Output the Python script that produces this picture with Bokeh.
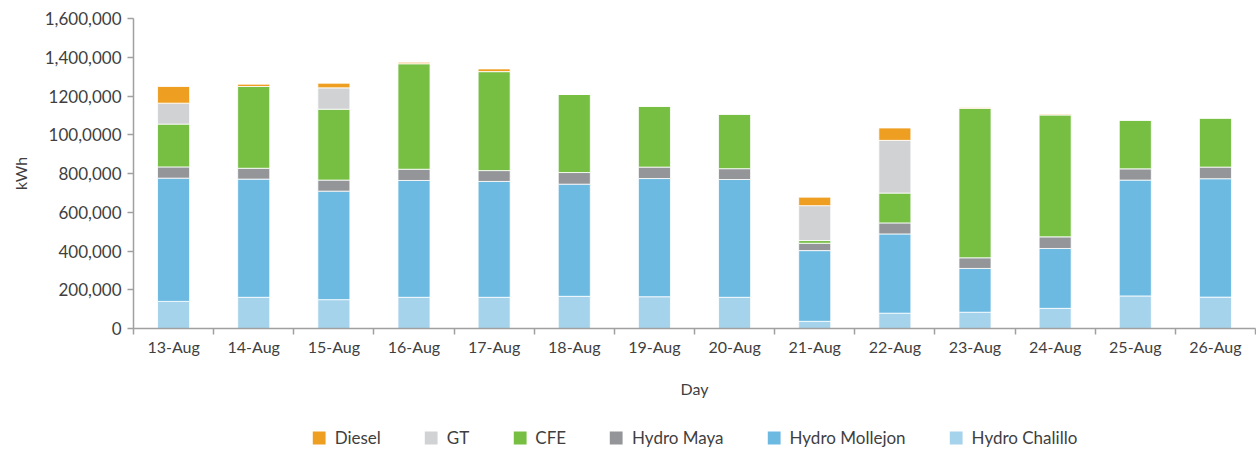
import numpy as np
from bokeh.plotting import figure
from bokeh.layouts import column
from bokeh.models import FixedTicker, Legend, LegendItem, Range1d, ColumnDataSource
from bokeh.embed import file_html
from bokeh.resources import INLINE

days = ["13-Aug", "14-Aug", "15-Aug", "16-Aug", "17-Aug", "18-Aug", "19-Aug",
        "20-Aug", "21-Aug", "22-Aug", "23-Aug", "24-Aug", "25-Aug", "26-Aug"]

hydro_chalillo = [140000, 161000, 149000, 161000, 161000, 166000, 164000,
                  161000, 37000, 79000, 84000, 104000, 168000, 162000]
hydro_mollejon = [636000, 610000, 560000, 603000, 598000, 579000, 610000,
                  608000, 365000, 409000, 226000, 309000, 598000, 611000]
hydro_maya = [58000, 56000, 57000, 58000, 56000, 60000, 59000,
              56000, 38000, 57000, 55000, 60000, 58000, 60000]
cfe = [221000, 422000, 366000, 545000, 511000, 404000, 315000,
       282000, 14000, 154000, 772000, 630000, 252000, 254000]
gt = [108000, 0, 110000, 0, 0, 0, 0,
      0, 180000, 272000, 0, 0, 0, 0]
diesel = [86000, 12000, 24000, 7000, 14000, 0, 0,
          0, 44000, 64000, 4000, 4000, 0, 0]

series_names = ["Hydro Chalillo", "Hydro Mollejon", "Hydro Maya", "CFE", "GT", "Diesel"]
series_keys = ["chalillo", "mollejon", "maya", "cfe", "gt", "diesel"]
series_colors = ["#A6D3EC", "#6CBAE2", "#939598", "#76BF43", "#D1D2D4", "#EE9F22"]

y_tick_values = [0, 200000, 400000, 600000, 800000, 1000000, 1200000, 1400000, 1600000]
y_tick_labels = ["0", "200,000", "400,000", "600,000", "800,000", "100,0000",
                 "1200,000", "1,400,000", "1,600,000"]

FONT = "Lato"
TXT = "#3f3f3f"
AXC = "#a0a0a0"

x_centers = (np.arange(len(days)) + 0.5).tolist()
source = ColumnDataSource(dict(
    x=x_centers,
    chalillo=hydro_chalillo, mollejon=hydro_mollejon, maya=hydro_maya,
    cfe=cfe, gt=gt, diesel=diesel,
))

p = figure(width=1256, height=400, output_backend="svg", toolbar_location=None,
           x_range=Range1d(0, len(days)), y_range=Range1d(0, 1600000),
           min_border_left=133, min_border_right=1, min_border_top=18,
           min_border_bottom=71)

renderers = p.vbar_stack(series_keys, x="x", width=0.4, color=series_colors,
                         source=source, line_color="white", line_width=0.8)

p.grid.visible = False
p.outline_line_color = None

# x axis
p.xaxis.ticker = FixedTicker(ticks=x_centers, minor_ticks=list(range(len(days) + 1)))
p.xaxis.major_label_overrides = {c: d for c, d in zip(x_centers, days)}
p.xaxis.major_tick_line_color = None
p.xaxis.major_tick_out = 6
p.xaxis.major_tick_in = 0
p.xaxis.minor_tick_out = 6
p.xaxis.minor_tick_in = 0
p.xaxis.minor_tick_line_color = AXC
p.xaxis.minor_tick_line_width = 1.5
p.xaxis.major_label_standoff = 2
p.xaxis.axis_label = "Day"
p.xaxis.axis_label_standoff = 20

# y axis
p.yaxis.ticker = FixedTicker(ticks=y_tick_values, minor_ticks=[])
p.yaxis.major_label_overrides = {v: l for v, l in zip(y_tick_values, y_tick_labels)}
p.yaxis.major_tick_out = 6
p.yaxis.major_tick_in = 0
p.yaxis.major_tick_line_color = AXC
p.yaxis.major_tick_line_width = 1.5
p.yaxis.minor_tick_line_color = None
p.yaxis.major_label_standoff = 6
p.yaxis.axis_label = "kWh"
p.yaxis.axis_label_standoff = 12

for ax in (p.xaxis, p.yaxis):
    ax.axis_line_color = AXC
    ax.axis_line_width = 1.5
    ax.major_label_text_font = FONT
    ax.major_label_text_color = TXT
    ax.axis_label_text_font = FONT
    ax.axis_label_text_font_size = "16px"
    ax.axis_label_text_font_style = "normal"
    ax.axis_label_text_color = TXT
p.xaxis.major_label_text_font_size = "16px"
p.yaxis.major_label_text_font_size = "17px"

# legend strip below the chart
q = figure(width=1256, height=49, output_backend="svg", toolbar_location=None,
           x_range=Range1d(0, 1), y_range=Range1d(0, 1),
           x_axis_location=None, y_axis_location=None,
           min_border_left=133, min_border_right=1, min_border_top=25,
           min_border_bottom=0)
q.grid.visible = False
q.outline_line_color = None
# zero-size placeholder bars, only used to give the legend its swatches
swatches = [q.vbar(x=[0.5], bottom=[0], top=[0], width=0, fill_color=c,
                   line_color=None) for c in series_colors]

items = [LegendItem(label=n, renderers=[r]) for n, r in zip(series_names, swatches)][::-1]
legend = Legend(items=items, orientation="horizontal", location="center",
                spacing=42, label_standoff=8, glyph_width=16, glyph_height=16,
                padding=0, margin=0, border_line_color=None,
                background_fill_alpha=0,
                label_text_font=FONT, label_text_font_size="17px",
                label_text_color=TXT, label_height=20)
q.add_layout(legend)

layout = column(p, q, spacing=0)
open("out.html", "w").write(file_html(layout, INLINE))
